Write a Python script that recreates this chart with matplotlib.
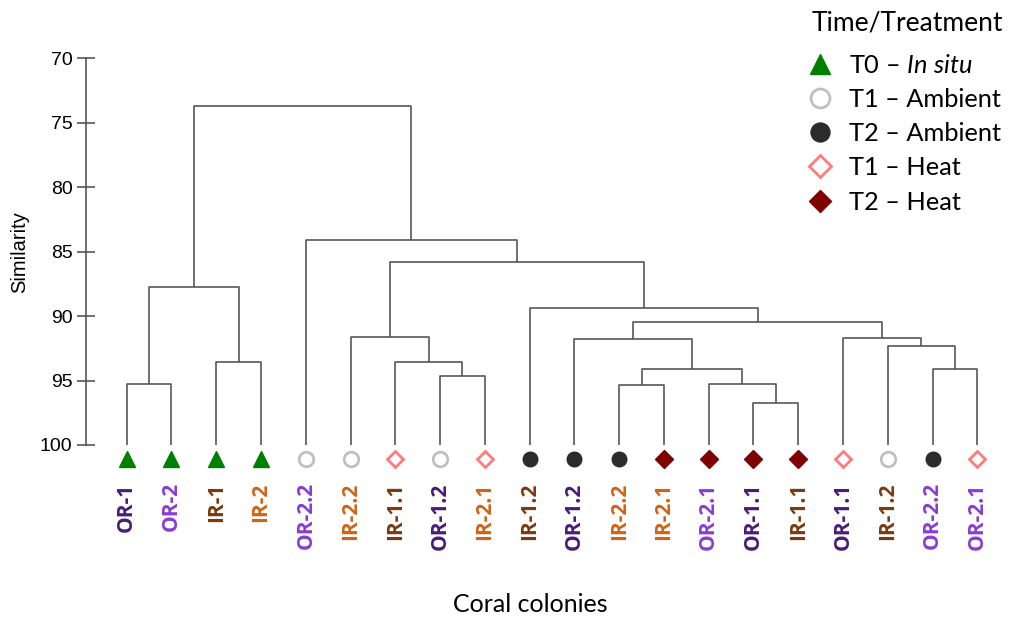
import matplotlib
matplotlib.use("Agg")
import matplotlib.pyplot as plt
from matplotlib.lines import Line2D

plt.rcParams["font.family"] = "Liberation Sans"
plt.rcParams["ytick.labelsize"] = 14
plt.rcParams["mathtext.fontset"] = "custom"
plt.rcParams["mathtext.rm"] = "Lato"
plt.rcParams["mathtext.it"] = "Lato:italic"

# ---------- leaves, in dendrogram order ----------
leaf_labels = ["OR-1", "OR-2", "IR-1", "IR-2", "OR-2.2", "IR-2.2", "IR-1.1",
               "OR-1.2", "IR-2.1", "IR-1.2", "OR-1.2", "IR-2.2", "IR-2.1",
               "OR-2.1", "OR-1.1", "IR-1.1", "OR-1.1", "IR-1.2", "OR-2.2",
               "OR-2.1"]
leaf_groups = ["T0", "T0", "T0", "T0", "T1A", "T1A", "T1H", "T1A", "T1H",
               "T2A", "T2A", "T2A", "T2H", "T2H", "T2H", "T2H", "T1H", "T1A",
               "T2A", "T1H"]

# ---------- merges (node ids >= 20 are clusters) ----------
merge_left  = [0, 2, 20, 7, 6, 5, 14, 13, 11, 28, 10, 18, 17, 16, 30, 9, 25, 4, 22]
merge_right = [1, 3, 21, 8, 23, 24, 15, 26, 12, 27, 29, 19, 31, 32, 33, 34, 35, 36, 37]
merge_sim   = [95.24, 93.60, 87.72, 94.65, 93.54, 91.62, 96.77, 95.27, 95.32,
               94.13, 91.78, 94.13, 92.32, 91.72, 90.43, 89.37, 85.83, 84.07,
               73.70]

site_colors = {"OR-1": "#4a1a78", "OR-2": "#8a3cd2",
               "IR-1": "#7a3a0f", "IR-2": "#cf6418"}

group_names = ["T0", "T1A", "T2A", "T1H", "T2H"]
group_labels = ["T0 \u2013 $\\mathit{In\\ situ}$", "T1 \u2013 Ambient",
                "T2 \u2013 Ambient", "T1 \u2013 Heat", "T2 \u2013 Heat"]
group_style = {
    "T0":  dict(marker="^", mfc="#008000", mec="#008000", ms=11, mew=1),
    "T1A": dict(marker="o", mfc="white", mec="#c0c0c0", ms=10.5, mew=2),
    "T2A": dict(marker="o", mfc="#2b2b2b", mec="#2b2b2b", ms=10.5, mew=1),
    "T1H": dict(marker="D", mfc="white", mec="#ff7b7b", ms=8.5, mew=2),
    "T2H": dict(marker="D", mfc="#7f0000", mec="#7f0000", ms=9, mew=1),
}

fig = plt.figure(figsize=(10.09, 6.22), dpi=100)
ax = fig.add_axes([86 / 1009, 0.2846, 914 / 1009, 0.6217])

# ---------- dendrogram ----------
n = len(leaf_labels)
node_x = {i: float(i) for i in range(n)}
node_y = {i: 100.0 for i in range(n)}
line_kw = dict(color="#505050", lw=1.15, solid_capstyle="butt")
for k, (a, b, h) in enumerate(zip(merge_left, merge_right, merge_sim)):
    xa, xb = node_x[a], node_x[b]
    ax.plot([xa, xa, xb, xb], [node_y[a], h, h, node_y[b]], **line_kw)
    node_x[n + k] = (xa + xb) / 2
    node_y[n + k] = h

# ---------- leaf markers and labels ----------
for i, (lab, g) in enumerate(zip(leaf_labels, leaf_groups)):
    ax.plot(i, 101.12, linestyle="none", clip_on=False, **group_style[g])
    ax.text(i, 102.9, lab, rotation=90, ha="center", va="top",
            fontsize=15, fontweight="bold", family="Open Sans",
            color=site_colors[lab[:4]], clip_on=False)

ax.set_xlim(-0.909, 19.506)
ax.set_ylim(100, 70)
ax.set_yticks([70, 75, 80, 85, 90, 95, 100])
for s in ["top", "right", "bottom"]:
    ax.spines[s].set_visible(False)
ax.spines["left"].set_color("#505050")
ax.spines["left"].set_linewidth(1.15)
ax.set_xticks([])
ax.tick_params(axis="y", direction="inout", length=12.5, width=1.15,
               color="#505050", pad=3.5)
ax.set_ylabel("Similarity", fontsize=14.5)
ax.yaxis.set_label_coords(-0.062, 0.5)

fig.text(530 / 1009, 1 - 605 / 622, "Coral colonies", ha="center",
         va="center", family="Lato", fontsize=18)

# ---------- legend ----------
fig.text(907 / 1009, 1 - 23 / 622, "Time/Treatment", ha="center",
         va="center", family="Lato", fontsize=19)
handles = []
for g in group_names:
    st = dict(group_style[g])
    st["ms"] = st["ms"] * 1.3
    handles.append(Line2D([], [], linestyle="none", **st))
leg = fig.legend(handles, group_labels,
                 loc="upper left", bbox_to_anchor=(787 / 1009, 1 - 36 / 622),
                 frameon=False, prop=dict(family="Lato", size=18.3),
                 labelspacing=0.44, handlelength=1.2, handletextpad=0.55,
                 borderpad=0.2)

fig.savefig("out.png", dpi=100)
